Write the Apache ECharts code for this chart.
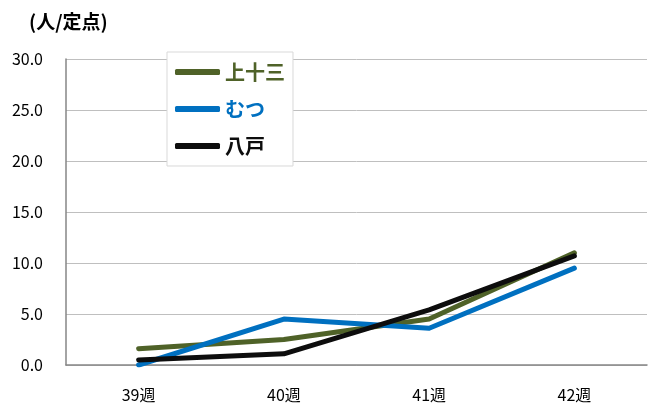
<!DOCTYPE html>
<html><head><meta charset="utf-8">
<script src="https://cdn.jsdelivr.net/npm/echarts@6/dist/echarts.min.js"></script>
<style>html,body{margin:0;padding:0;background:#fff}#c{width:655px;height:403px}</style>
</head><body><div id="c"></div>
<script>
const categories = ['39週', '40週', '41週', '42週'];
const kamitosan = [1.6, 2.5, 4.5, 11.0];
const mutsu = [0.0, 4.5, 3.6, 9.5];
const hachinohe = [0.5, 1.1, 5.4, 10.7];
const seriesNames = ['上十三', 'むつ', '八戸'];
const colors = ['#4F6228', '#0070C0', '#0D0D0D'];
const yTicks = { min: 0, max: 30, interval: 5 };

const font = '"Noto Sans CJK JP", "Open Sans", sans-serif';
const chart = echarts.init(document.getElementById('c'), null, { renderer: 'canvas' });
const mk = (name, data, color) => ({
  name, type: 'line', data, symbol: 'none', smooth: false,
  lineStyle: { width: 5, color, cap: 'round', join: 'round' },
  itemStyle: { color }
});
chart.setOption({
  animation: false,
  backgroundColor: '#fff',
  color: colors,
  grid: { left: 66, right: 8, top: 59, bottom: 38, containLabel: false },
  title: {
    text: '(人/定点)', left: 24, top: 7,
    textStyle: { fontFamily: font, fontSize: 19, fontWeight: 'bold', color: '#000' }
  },
  legend: {
    orient: 'vertical', left: 167, top: 52,
    padding: [10, 8, 10, 8], itemGap: 17,
    backgroundColor: '#fff', borderColor: '#d9d9d9', borderWidth: 1,
    itemWidth: 45, itemHeight: 6, icon: 'roundRect',
    data: seriesNames.map((n, i) => ({
      name: n, textStyle: { color: colors[i] }
    })),
    textStyle: { fontFamily: font, fontSize: 20, fontWeight: 'bold' }
  },
  xAxis: {
    type: 'category', data: categories, boundaryGap: true,
    axisLine: { lineStyle: { color: '#868686', width: 1.5 } },
    axisTick: { show: false },
    axisLabel: { fontFamily: font, fontSize: 16, color: '#000', margin: 22 }
  },
  yAxis: {
    type: 'value', min: yTicks.min, max: yTicks.max, interval: yTicks.interval,
    axisLine: { show: true, lineStyle: { color: '#868686', width: 1.5 } },
    axisTick: { show: false },
    splitLine: { lineStyle: { color: '#bfbfbf', width: 1 } },
    axisLabel: { fontFamily: font, fontSize: 16, color: '#000', margin: 23,
      formatter: v => v.toFixed(1) }
  },
  series: [
    mk(seriesNames[0], kamitosan, colors[0]),
    mk(seriesNames[1], mutsu, colors[1]),
    mk(seriesNames[2], hachinohe, colors[2])
  ]
});
</script></body></html>
